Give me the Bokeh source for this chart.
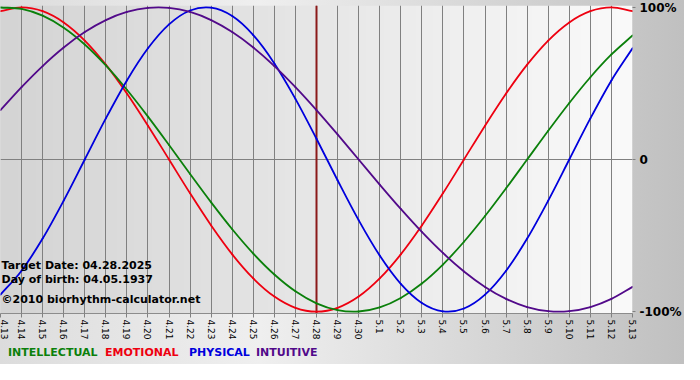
import numpy as np
from bokeh.plotting import figure
from bokeh.layouts import column
from bokeh.models import Range1d, FixedTicker, Span, Label, InlineStyleSheet, Div
from bokeh.embed import file_html
from bokeh.resources import INLINE

# ---- data ----
dates = ["4.13", "4.14", "4.15", "4.16", "4.17", "4.18", "4.19", "4.20", "4.21",
         "4.22", "4.23", "4.24", "4.25", "4.26", "4.27", "4.28", "4.29", "4.30",
         "5.1", "5.2", "5.3", "5.4", "5.5", "5.6", "5.7", "5.8", "5.9", "5.10",
         "5.11", "5.12", "5.13"]
intellectual = [0.9989, 0.9898, 0.9450, 0.8660, 0.7557, 0.6182, 0.4582, 0.2817,
                0.0951, -0.0951, -0.2817, -0.4582, -0.6182, -0.7557, -0.8660,
                -0.9450, -0.9898, -0.9989, -0.9718, -0.9096, -0.8146, -0.6901,
                -0.5406, -0.3717, -0.1893, 0.0, 0.1893, 0.3717, 0.5406, 0.6901,
                0.8146]
emotional = [0.9749, 1.0, 0.9749, 0.9010, 0.7818, 0.6235, 0.4339, 0.2225, 0.0,
             -0.2225, -0.4339, -0.6235, -0.7818, -0.9010, -0.9749, -1.0, -0.9749,
             -0.9010, -0.7818, -0.6235, -0.4339, -0.2225, 0.0, 0.2225, 0.4339,
             0.6235, 0.7818, 0.9010, 0.9749, 1.0, 0.9749]
physical = [-0.8879, -0.7308, -0.5196, -0.2698, 0.0, 0.2698, 0.5196, 0.7308,
            0.8879, 0.9791, 0.9977, 0.9423, 0.8170, 0.6311, 0.3984, 0.1362,
            -0.1362, -0.3984, -0.6311, -0.8170, -0.9423, -0.9977, -0.9791,
            -0.8879, -0.7308, -0.5196, -0.2698, 0.0, 0.2698, 0.5196, 0.7308]
intuitive = [0.3247, 0.4759, 0.6142, 0.7357, 0.8372, 0.9158, 0.9694, 0.9966,
             0.9966, 0.9694, 0.9158, 0.8372, 0.7357, 0.6142, 0.4759, 0.3247,
             0.1646, 0.0, -0.1646, -0.3247, -0.4759, -0.6142, -0.7357, -0.8372,
             -0.9158, -0.9694, -0.9966, -0.9966, -0.9694, -0.9158, -0.8372]
target_date = "4.28"
y_ticks = [-1, 0, 1]
y_tick_labels = ["-100%", "0", "100%"]
info_lines = ["Target Date: 04.28.2025", "Day of birth: 04.05.1937",
              "\u00a92010 biorhythm-calculator.net"]
series_names = ["INTELLECTUAL", "EMOTIONAL", "PHYSICAL", "INTUITIVE"]

# ---- styles ----
colors = {"INTELLECTUAL": "#0b800b", "EMOTIONAL": "#ee0010",
          "PHYSICAL": "#0000dd", "INTUITIVE": "#520a8a"}
FONT = "DejaVu Sans"
YLO, YHI = -1.012, 1.012
W, H_PLOT, H_LEG = 684, 342, 22

x = list(range(len(dates)))
p = figure(width=W, height=H_PLOT,
           x_range=Range1d(0, len(dates) - 1), y_range=Range1d(YLO, YHI),
           output_backend="svg", toolbar_location=None, y_axis_location="right",
           min_border_left=0, min_border_right=50, min_border_top=5,
           min_border_bottom=28)
p.border_fill_color = None
p.background_fill_color = None
p.outline_line_color = None

# plot area horizontal gradient
n = 256
img = np.empty((1, n), dtype=np.uint32)
view = img.view(dtype=np.uint8).reshape((1, n, 4))
g = np.linspace(212, 250, n).astype(np.uint8)
view[0, :, 0] = g
view[0, :, 1] = g
view[0, :, 2] = g
view[0, :, 3] = 255
bg = p.image_rgba(image=[img], x=0, y=YLO, dw=len(dates) - 1, dh=YHI - YLO)
bg.level = "image"

# axes
xt = FixedTicker(ticks=x)
p.xaxis.ticker = xt
p.xaxis.major_label_overrides = {i: d for i, d in enumerate(dates)}
p.xaxis.major_label_orientation = -np.pi / 2
p.xaxis.major_label_text_font = FONT
p.xaxis.major_label_text_font_size = "9px"
p.xaxis.major_label_text_color = "black"
p.xaxis.major_label_standoff = 2
p.xaxis.axis_line_color = "#8c8c8c"
p.xaxis.major_tick_line_color = "#808080"
p.xaxis.major_tick_out = 4
p.xaxis.major_tick_in = 0
p.xaxis.minor_tick_line_color = None

p.yaxis.ticker = FixedTicker(ticks=y_ticks)
p.yaxis.major_label_overrides = {t: l for t, l in zip(y_ticks, y_tick_labels)}
p.yaxis.major_label_text_font = FONT
p.yaxis.major_label_text_font_size = "12px"
p.yaxis.major_label_text_font_style = "bold"
p.yaxis.major_label_text_color = "black"
p.yaxis.axis_line_color = None
p.yaxis.major_tick_line_color = "#808080"
p.yaxis.major_tick_out = 3
p.yaxis.major_tick_in = 0
p.yaxis.minor_tick_line_color = None
p.yaxis.major_label_standoff = 4

p.xgrid.ticker = xt
p.xgrid.grid_line_color = "#808080"
p.ygrid.ticker = FixedTicker(ticks=[0])
p.ygrid.grid_line_color = "#808080"

# target date line
p.add_layout(Span(location=dates.index(target_date), dimension="height",
                  line_color="#8b1a1a", line_width=2, level="underlay"))


def smooth_segments(xs, ys):
    """Catmull-Rom control points so the daily values are joined by smooth curves."""
    px = np.asarray(xs, dtype=float)
    py = np.asarray(ys, dtype=float)
    ex = np.concatenate([[2 * px[0] - px[1]], px, [2 * px[-1] - px[-2]]])
    ey = np.concatenate([[2 * py[0] - py[1]], py, [2 * py[-1] - py[-2]]])
    x0, y0 = ex[1:-2], ey[1:-2]
    x1, y1 = ex[2:-1], ey[2:-1]
    cx0 = x0 + (ex[2:-1] - ex[:-3]) / 6.0
    cy0 = y0 + (ey[2:-1] - ey[:-3]) / 6.0
    cx1 = x1 - (ex[3:] - ex[1:-2]) / 6.0
    cy1 = y1 - (ey[3:] - ey[1:-2]) / 6.0
    return dict(x0=x0, y0=y0, x1=x1, y1=y1, cx0=cx0, cy0=cy0, cx1=cx1, cy1=cy1)


# curves
for name, ys in [("EMOTIONAL", emotional), ("INTELLECTUAL", intellectual),
                 ("PHYSICAL", physical), ("INTUITIVE", intuitive)]:
    seg = smooth_segments(x, ys)
    p.bezier(line_color=colors[name], line_width=1.8, line_cap="round", **seg)

# info text inside plot
for txt, yv in zip(info_lines, [-0.694, -0.789, -0.919]):
    p.add_layout(Label(x=0.05, y=yv, text=txt, text_font=FONT,
                       text_font_size="11px", text_font_style="bold",
                       text_color="black", text_baseline="middle"))

# legend text below the chart
slot_widths = [97, 84, 67, 80]
spans = "".join(
    f'<span style="display:inline-block;width:{w}px;color:{colors[nm]}">{nm}</span>'
    for nm, w in zip(series_names, slot_widths))
legend = Div(text=spans, width=W, height=H_LEG, margin=(0, 0, 0, 0),
             styles={"font-family": FONT, "font-weight": "bold",
                     "font-size": "11px", "line-height": f"{H_LEG}px",
                     "padding-left": "8px", "white-space": "nowrap"})

layout = column(p, legend, spacing=0, width=W, height=H_PLOT + H_LEG)
layout.stylesheets = [InlineStyleSheet(css=":host { background: linear-gradient(to right, #dcdcdc 0%, #efefef 38%, #c0c0c0 100%); }")]

open("out.html", "w").write(file_html(layout, INLINE))
